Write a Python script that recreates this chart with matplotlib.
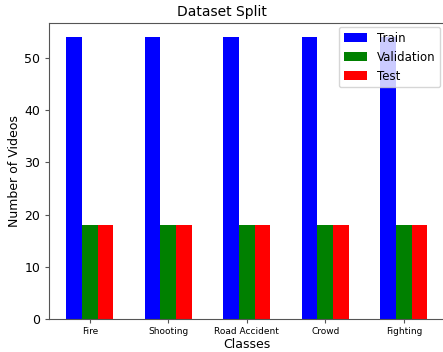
import numpy as np
import matplotlib
matplotlib.use("Agg")
import matplotlib.pyplot as plt

# Data
classes = ["Fire", "Shooting", "Road Accident", "Crowd", "Fighting"]
train_counts = [54, 54, 54, 54, 54]
val_counts = [18, 18, 18, 18, 18]
test_counts = [18, 18, 18, 18, 18]

x = np.arange(len(classes))
width = 0.2

fig = plt.figure(figsize=(4.43, 3.52), dpi=100)
# axes runs past the right edge, like the cropped original
ax = fig.add_axes([49 / 443, 1 - 319 / 352, 410 / 443, 296 / 352])

ax.bar(x - width, train_counts, width, color="blue", label="Train")
ax.bar(x, val_counts, width, color="green", label="Validation")
ax.bar(x + width, test_counts, width, color="red", label="Test")

ax.set_xlim(-0.52, -0.52 + 410 / 78.5)

for side in ["left", "bottom", "top"]:
    ax.spines[side].set_color("#555555")
ax.spines["right"].set_visible(False)

ax.set_title("Dataset Split", fontsize=10, pad=5, x=(222 - 49) / 410)
ax.set_xlabel("Classes", fontsize=9, labelpad=2)
ax.xaxis.set_label_coords((247 - 49) / 410, -0.065)
ax.set_ylabel("Number of Videos", fontsize=9, labelpad=2.5)
ax.set_xticks(x)
ax.set_xticklabels(classes, fontsize=6.5)
ax.tick_params(axis="x", pad=2.5, length=3.2, color="#555555")
ax.tick_params(axis="y", labelsize=9, length=3.2, pad=3, color="#555555")
ax.legend(loc="upper right", fontsize=8.5, bbox_to_anchor=(440 / 443, 1 - 27 / 352),
          bbox_transform=fig.transFigure, borderaxespad=0)

fig.savefig("out.png", dpi=100)
